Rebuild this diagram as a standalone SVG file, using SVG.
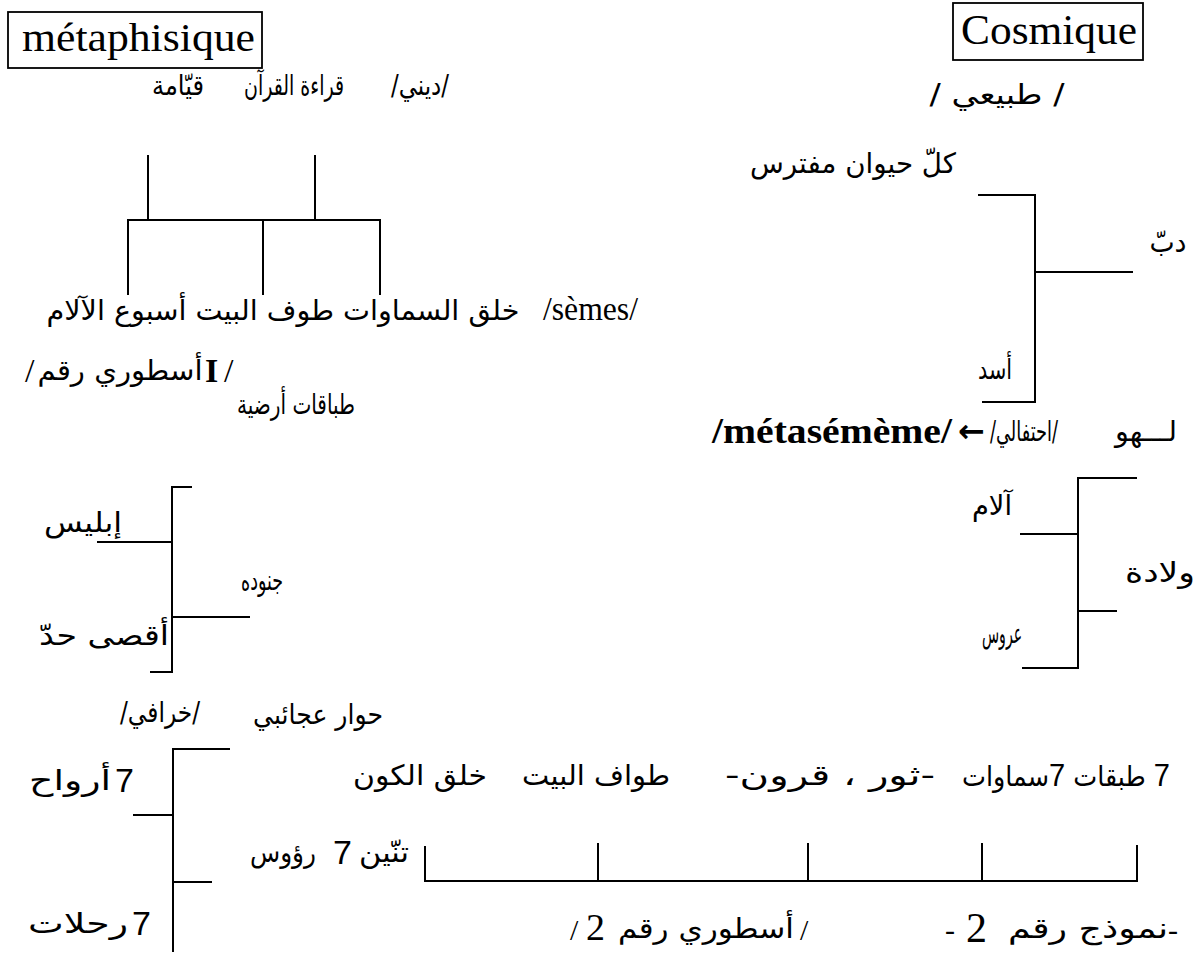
<svg xmlns="http://www.w3.org/2000/svg" width="1203" height="957" viewBox="0 0 1203 957">
<style>
.ln{stroke:#000;stroke-width:2;fill:none}
.box{stroke:#000;stroke-width:1.8;fill:none}
.ar{font-family:"DejaVu Sans",sans-serif;font-size:28px;fill:#000;text-anchor:middle}
.lat{font-family:"Liberation Serif",serif;fill:#000}
.num{font-family:"Liberation Sans",sans-serif;font-size:34px;fill:#000}
.dg{font-family:"Liberation Sans",sans-serif;font-size:32px}
</style>
<rect width="1203" height="957" fill="#fff"/>
<g id="connectors">
<path class="ln" d="M148,155 V220 M315,155 V220 M128,295 V220 H380 V295 M263,220 V295"/>
<path class="ln" d="M978,195 H1035 V402 H982 M1035,272 H1133"/>
<path class="ln" d="M192,487 H172 V672 H150 M97,542 H172 M172,617 H250"/>
<path class="ln" d="M1137,478 H1078 V668 H1022 M1020,534 H1078 M1078,611 H1117"/>
<path class="ln" d="M230,749 H173 V952 M133,815 H173 M173,882 H212"/>
<path class="ln" d="M425,846 V881 H1137 V845 M598,843 V881 M808,843 V881 M982,843 V881"/>
</g>
<g id="metaphisique"><rect class="box" x="8" y="12" width="254" height="56"/><text class="lat" x="22" y="51" font-size="40" textLength="233" lengthAdjust="spacingAndGlyphs">métaphisique</text></g>
<g id="cosmique"><rect class="box" x="953" y="3" width="190" height="57"/><text class="lat" x="961" y="44" font-size="43" textLength="176" lengthAdjust="spacingAndGlyphs">Cosmique</text></g>
<g id="tabii"><text class="ar" x="997" y="104" font-size="32" textLength="135" lengthAdjust="spacingAndGlyphs">/ طبيعي /</text></g>
<g id="dini"><text class="ar" x="420" y="95" font-size="24" textLength="58" lengthAdjust="spacingAndGlyphs">/ديني/</text></g>
<g id="qiraa"><text class="ar" x="294" y="95" font-size="22" textLength="100" lengthAdjust="spacingAndGlyphs">قراءة القرآن</text></g>
<g id="qiyama"><text class="ar" x="178" y="95" textLength="52" lengthAdjust="spacingAndGlyphs">قيّامة</text></g>
<g id="sems"><text class="ar" x="283" y="320" textLength="473" lengthAdjust="spacingAndGlyphs">خلق السماوات طوف البيت أسبوع الآلام</text><text class="lat" x="543" y="320" font-size="33" textLength="95" lengthAdjust="spacingAndGlyphs">/sèmes/</text></g>
<g id="kull"><text class="ar" x="853" y="173" textLength="206" lengthAdjust="spacingAndGlyphs">كلّ حيوان مفترس</text></g>
<g id="dubb"><text class="ar" x="1168" y="252" textLength="37" lengthAdjust="spacingAndGlyphs">دبّ</text></g>
<g id="asad"><text class="ar" x="995" y="379" textLength="34" lengthAdjust="spacingAndGlyphs">أسد</text></g>
<g id="ustouri1"><text class="lat" x="25" y="382" font-size="34">/</text><text class="ar" x="120" y="380" textLength="165" lengthAdjust="spacingAndGlyphs">أسطوري رقم</text><text class="lat" x="205" y="382" font-size="34" font-weight="bold">I</text><text class="lat" x="224" y="382" font-size="34">/</text></g>
<g id="tabaqat"><text class="ar" x="296" y="414" textLength="118" lengthAdjust="spacingAndGlyphs">طباقات أرضية</text></g>
<g id="iblis"><text class="ar" x="83" y="532" textLength="78" lengthAdjust="spacingAndGlyphs">إبليس</text></g>
<g id="junuduh"><text class="ar" x="262" y="590" textLength="42" lengthAdjust="spacingAndGlyphs">جنوده</text></g>
<g id="aqsa"><text class="ar" x="104" y="645" textLength="130" lengthAdjust="spacingAndGlyphs">أقصى حدّ</text></g>
<g id="metasememe"><text class="lat" x="712" y="443" font-size="35" font-weight="bold" textLength="240" lengthAdjust="spacingAndGlyphs">/métasémème/</text></g>
<g id="arrow"><text x="958" y="442" font-family="DejaVu Sans,sans-serif" font-size="32" font-weight="bold">←</text></g>
<g id="ihtifali"><text class="ar" x="1024" y="441" textLength="68" lengthAdjust="spacingAndGlyphs">/احتفالي/</text></g>
<g id="lahw"><text class="ar" x="1146" y="441" textLength="62" lengthAdjust="spacingAndGlyphs">لـــهو</text></g>
<g id="alam"><text class="ar" x="992" y="515" textLength="40" lengthAdjust="spacingAndGlyphs">آلام</text></g>
<g id="wilada"><text class="ar" x="1160" y="582" textLength="70" lengthAdjust="spacingAndGlyphs">ولادة</text></g>
<g id="arous"><text class="ar" x="1002" y="643" textLength="40" lengthAdjust="spacingAndGlyphs">عروس</text></g>
<g id="khurafi"><text class="ar" x="160" y="722" textLength="80" lengthAdjust="spacingAndGlyphs">/خرافي/</text></g>
<g id="hiwar"><text class="ar" x="318" y="724" textLength="130" lengthAdjust="spacingAndGlyphs">حوار عجائبي</text></g>
<g id="arwah"><text class="ar" x="70" y="790" textLength="82" lengthAdjust="spacingAndGlyphs">أرواح</text><text class="num" x="115" y="792">7</text></g>
<g id="rahalat"><text class="ar" x="78" y="933" textLength="100" lengthAdjust="spacingAndGlyphs">رحلات</text><text class="num" x="132" y="935">7</text></g>
<g id="tinnin"><text class="ar" x="283" y="862" textLength="66" lengthAdjust="spacingAndGlyphs">رؤوس</text><text class="num" x="333" y="864">7</text><text class="ar" x="384" y="862" textLength="50" lengthAdjust="spacingAndGlyphs">تنّين</text></g>
<g id="row7">
<text class="ar" x="420" y="785" textLength="134" lengthAdjust="spacingAndGlyphs">خلق الكون</text>
<text class="ar" x="596" y="785" textLength="148" lengthAdjust="spacingAndGlyphs">طواف البيت</text>
<text class="ar" x="830" y="785" direction="rtl" textLength="210" lengthAdjust="spacingAndGlyphs">-ثور ، قرون-</text>
<text class="ar" x="1066" y="786" font-size="21" direction="rtl" textLength="208" lengthAdjust="spacingAndGlyphs"><tspan class="dg">7</tspan> طبقات  <tspan class="dg">7</tspan>سماوات</text>
</g>
<g id="ustouri2"><text class="lat" x="570" y="940" font-size="30">/</text><text class="lat" x="586" y="940" font-size="38">2</text><text class="ar" x="706" y="938" textLength="176" lengthAdjust="spacingAndGlyphs">أسطوري رقم</text><text class="lat" x="800" y="940" font-size="30">/</text></g>
<g id="namudhaj"><text class="lat" x="945" y="940" font-size="30">-</text><text class="lat" x="966" y="942" font-size="42">2</text><text class="ar" x="1088" y="938" textLength="160" lengthAdjust="spacingAndGlyphs">نموذج رقم</text><text class="lat" x="1168" y="940" font-size="30">-</text></g>
</svg>
